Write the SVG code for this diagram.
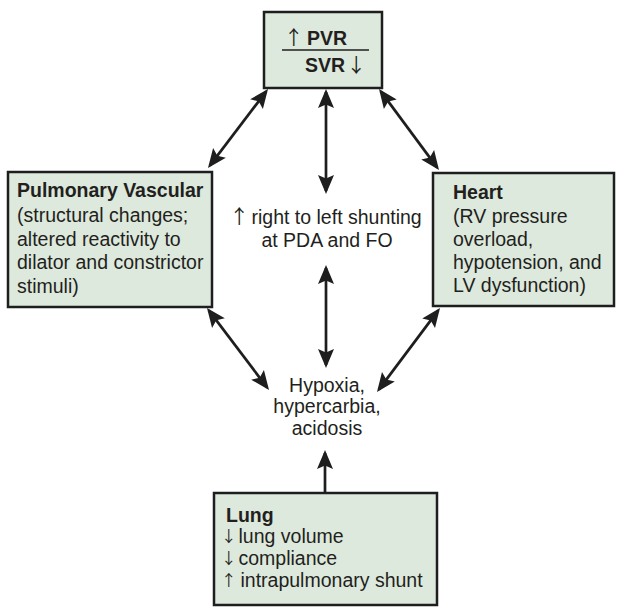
<svg xmlns="http://www.w3.org/2000/svg" width="617" height="609" viewBox="0 0 617 609">
  <style>
    .box { fill: #dde9dd; stroke: #1e1e1e; stroke-width: 2.5; }
    text { font-family: "Liberation Sans", Arial, "DejaVu Sans", sans-serif; font-size: 19.5px; fill: #231f20; }
    .b { font-weight: bold; }
    .arr { font-family: "Noto Sans CJK SC", "DejaVu Sans", sans-serif; font-weight: normal; font-size: 19.5px; }
    .arr-s { font-family: "Noto Sans CJK SC", "DejaVu Sans", sans-serif; font-weight: normal; font-size: 15.5px; }
    .mid { text-anchor: middle; }
    .conn { stroke: #1e1e1e; stroke-width: 2.7; fill: none; }
  </style>
  <defs>
    <marker id="ah" viewBox="-21 -9 23 18" refX="-3" refY="0" markerWidth="23" markerHeight="18" markerUnits="userSpaceOnUse" orient="auto-start-reverse">
      <path d="M0,0 L-19,-8 L-15.5,0 L-19,8 Z" fill="#1e1e1e"/>
    </marker>
  </defs>
  <rect width="617" height="609" fill="#ffffff"/>

  <g id="connectors">
    <line class="conn" x1="266.2" y1="91.4" x2="209.8" y2="165.6" marker-start="url(#ah)" marker-end="url(#ah)"/>
    <line class="conn" x1="380.8" y1="91.4" x2="437.2" y2="167.6" marker-start="url(#ah)" marker-end="url(#ah)"/>
    <line class="conn" x1="326" y1="92" x2="326" y2="191" marker-start="url(#ah)" marker-end="url(#ah)"/>
    <line class="conn" x1="326" y1="268" x2="326" y2="365" marker-start="url(#ah)" marker-end="url(#ah)"/>
    <line class="conn" x1="208.8" y1="310.4" x2="267.2" y2="387.6" marker-start="url(#ah)" marker-end="url(#ah)"/>
    <line class="conn" x1="438.2" y1="310.4" x2="378.8" y2="389.6" marker-start="url(#ah)" marker-end="url(#ah)"/>
    <line class="conn" x1="325" y1="493" x2="325" y2="453" marker-end="url(#ah)"/>
  </g>

  <g id="ratio">
    <rect class="box" x="264" y="12" width="118" height="76"/>
    <text x="284" y="45"><tspan class="arr">↑</tspan><tspan class="b" x="307">PVR</tspan></text>
    <line x1="282" y1="50" x2="369" y2="50" stroke="#1e1e1e" stroke-width="1.6"/>
    <text x="305" y="72"><tspan class="b">SVR</tspan><tspan class="arr" x="346.5">↓</tspan></text>
  </g>

  <g id="pulmonary-vascular">
    <rect class="box" x="8" y="172" width="204" height="135"/>
    <text x="17" y="197" class="b">Pulmonary Vascular</text>
    <text x="17" y="222">(structural changes;</text>
    <text x="17" y="246">altered reactivity to</text>
    <text x="17" y="269">dilator and constrictor</text>
    <text x="17" y="293">stimuli)</text>
  </g>

  <g id="heart">
    <rect class="box" x="433" y="173" width="181" height="133"/>
    <text x="453" y="199" class="b">Heart</text>
    <text x="453" y="223">(RV pressure</text>
    <text x="453" y="246">overload,</text>
    <text x="453" y="269">hypotension, and</text>
    <text x="453" y="292">LV dysfunction)</text>
  </g>

  <g id="shunting">
    <text x="229.5" y="224"><tspan class="arr">↑</tspan><tspan x="251.5">right to left shunting</tspan></text>
    <text x="327" y="247" class="mid">at PDA and FO</text>
  </g>

  <g id="hypoxia">
    <text x="327" y="392" class="mid">Hypoxia,</text>
    <text x="327" y="413" class="mid">hypercarbia,</text>
    <text x="327" y="435" class="mid">acidosis</text>
  </g>

  <g id="lung">
    <rect class="box" x="214" y="493" width="223" height="112"/>
    <text x="226" y="522" class="b">Lung</text>
    <text x="221" y="542"><tspan class="arr-s">↓</tspan><tspan x="238.5" y="543">lung volume</tspan></text>
    <text x="221" y="564"><tspan class="arr-s">↓</tspan><tspan x="238.5" y="565">compliance</tspan></text>
    <text x="221" y="586"><tspan class="arr-s">↑</tspan><tspan x="240.5" y="587">intrapulmonary shunt</tspan></text>
  </g>
</svg>
